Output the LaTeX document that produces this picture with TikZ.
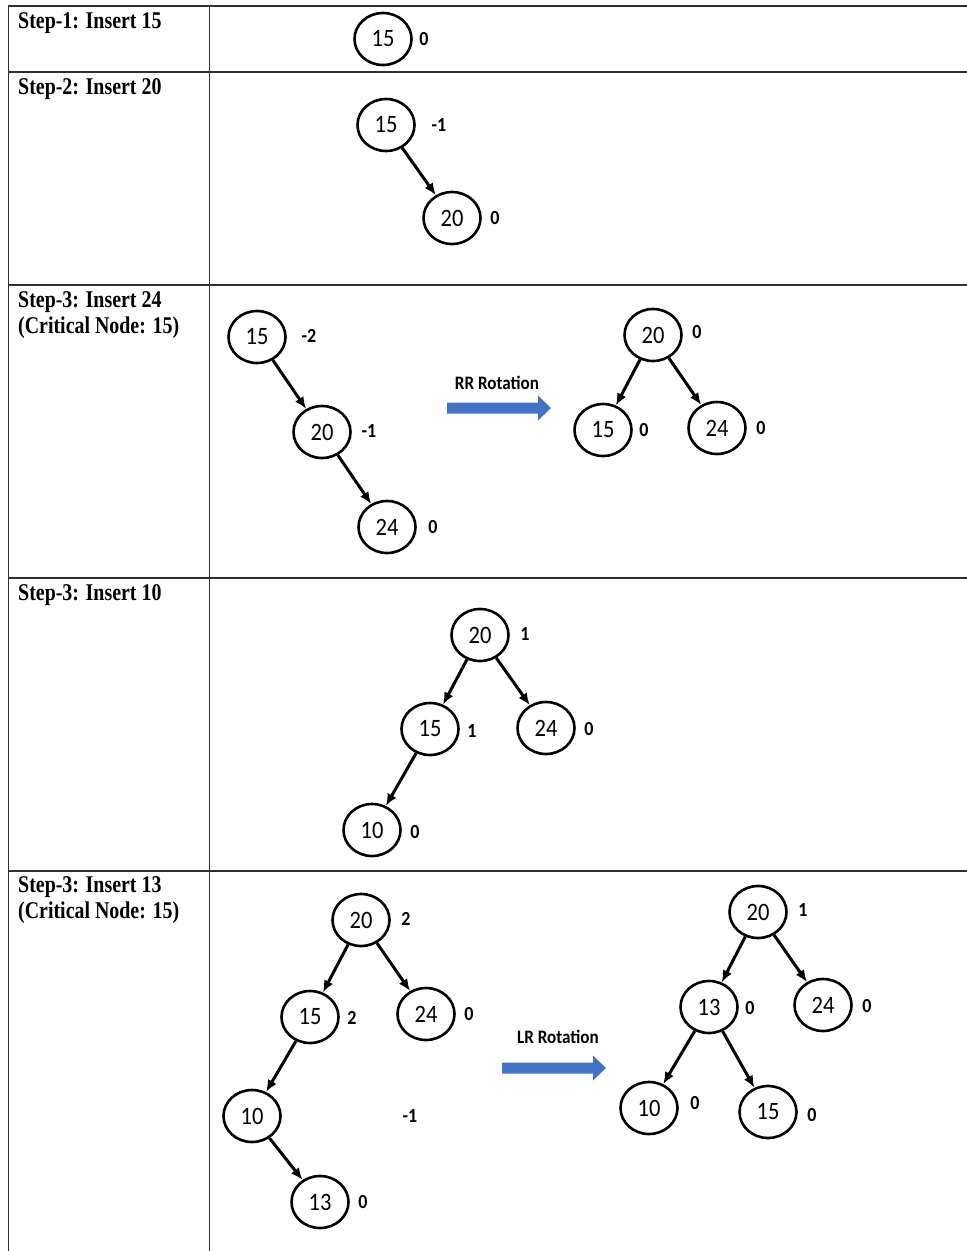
\documentclass[tikz,border=0pt]{standalone}
\usepackage{fontspec}
\setmainfont{Liberation Serif}
\newfontfamily\headfont[FakeStretch=0.83]{Liberation Serif}
\newfontfamily\keyfont[FakeStretch=0.9]{Carlito}
\usetikzlibrary{arrows.meta,shapes.geometric}
\definecolor{arrowblue}{HTML}{4472C4}
\definecolor{rulegray}{HTML}{303030}

\tikzset{
  key/.style={ellipse, draw, line width=2.6pt, minimum width=57pt, minimum height=52pt,
    inner sep=0pt, font=\keyfont\fontsize{25}{25}\selectfont},
  bal/.style={inner sep=0pt, font=\keyfont\bfseries\fontsize{20}{20}\selectfont},
  link/.style={line width=3pt, -{Latex[length=12pt,width=10pt]}},
  rowrule/.style={line width=1.8pt, draw=rulegray},
  head/.style={anchor=base west, inner sep=0pt, font=\headfont\bfseries\fontsize{24}{26}\selectfont},
  rotlabel/.style={inner sep=0pt, font=\keyfont\bfseries\fontsize{19}{19}\selectfont},
  bigarrow/.style={fill=arrowblue}
}
% block arrow: 104pt long, 11pt shaft, 25pt head, 13pt head length
\newcommand\blockarrow[1]{%
  \fill[bigarrow] (#1) ++(0,-5.5) -- ++(91,0) -- ++(0,-7) -- ++(13,12.5)
    -- ++(-13,12.5) -- ++(0,-7) -- ++(-91,0) -- cycle;}

\begin{document}
\begin{tikzpicture}[x=1pt,y=-1pt]
\useasboundingbox (0,0) rectangle (967,1251);

% table frame
\draw[rowrule] (967,6) -- (8.5,6) -- (8.5,1251);
\draw[rowrule] (209.5,6) -- (209.5,1251);
\foreach \yy in {72,285,578,871}
  \draw[rowrule] (8.5,\yy) -- (967,\yy);

% row captions
\node[head] (h1)  at (18,28)  {Step-1: Insert 15};
\node[head] (h2)  at (18,94)  {Step-2: Insert 20};
\node[head] (h3)  at (18,307) {Step-3: Insert 24};
\node[head] (h3b) at (18,333) {(Critical Node: 15)};
\node[head] (h4)  at (18,600) {Step-3: Insert 10};
\node[head] (h5)  at (18,892) {Step-3: Insert 13};
\node[head] (h5b) at (18,918) {(Critical Node: 15)};

% step 1
\node[key] (a15) at (383,39) {15};
\node[bal] (a15b) at (424,39) {0};

% step 2
\node[key] (b15) at (386,125) {15};
\node[bal] (b15b) at (439,125) {-1};
\node[key] (b20) at (452,218) {20};
\node[bal] (b20b) at (495,218) {0};
\draw[link] (b15) -- (b20);

% step 3: insert 24, before rotation
\node[key] (c15) at (257,337) {15};
\node[bal] (c15b) at (309,336) {-2};
\node[key] (c20) at (322,432) {20};
\node[bal] (c20b) at (369,431) {-1};
\node[key] (c24) at (387,527) {24};
\node[bal] (c24b) at (433,527) {0};
\draw[link] (c15) -- (c20);
\draw[link] (c20) -- (c24);

% RR rotation
\node[rotlabel] (rrlab) at (497,383) {RR Rotation};
\coordinate (rr) at (447,408);
\blockarrow{rr}

% step 3: insert 24, after rotation
\node[key] (d20) at (653,335) {20};
\node[bal] (d20b) at (697,332) {0};
\node[key] (d15) at (603,430) {15};
\node[bal] (d15b) at (644,430) {0};
\node[key] (d24) at (717,428) {24};
\node[bal] (d24b) at (761,428) {0};
\draw[link] (d20) -- (d15);
\draw[link] (d20) -- (d24);

% step 4: insert 10
\node[key] (e20) at (480,635) {20};
\node[bal] (e20b) at (525,634) {1};
\node[key] (e15) at (430,729) {15};
\node[bal] (e15b) at (472,731) {1};
\node[key] (e24) at (546,728) {24};
\node[bal] (e24b) at (589,729) {0};
\node[key] (e10) at (372,830) {10};
\node[bal] (e10b) at (415,832) {0};
\draw[link] (e20) -- (e15);
\draw[link] (e20) -- (e24);
\draw[link] (e15) -- (e10);

% step 5: insert 13, before rotation
\node[key] (f20) at (361,920) {20};
\node[bal] (f20b) at (406,919) {2};
\node[key] (f15) at (310,1017) {15};
\node[bal] (f15b) at (352,1018) {2};
\node[key] (f24) at (426,1014) {24};
\node[bal] (f24b) at (469,1014) {0};
\node[key] (f10) at (252,1116) {10};
\node[bal] (f10b) at (410,1116) {-1};
\node[key] (f13) at (320,1202) {13};
\node[bal] (f13b) at (363,1202) {0};
\draw[link] (f20) -- (f15);
\draw[link] (f20) -- (f24);
\draw[link] (f15) -- (f10);
\draw[link] (f10) -- (f13);

% LR rotation
\node[rotlabel] (lrlab) at (558,1037) {LR Rotation};
\coordinate (lr) at (502,1068);
\blockarrow{lr}

% step 5: insert 13, after rotation
\node[key] (g20) at (758,912) {20};
\node[bal] (g20b) at (803,910) {1};
\node[key] (g13) at (709,1007) {13};
\node[bal] (g13b) at (750,1008) {0};
\node[key] (g24) at (823,1005) {24};
\node[bal] (g24b) at (867,1006) {0};
\node[key] (g10) at (649,1108) {10};
\node[bal] (g10b) at (695,1103) {0};
\node[key] (g15) at (768,1112) {15};
\node[bal] (g15b) at (812,1115) {0};
\draw[link] (g20) -- (g13);
\draw[link] (g20) -- (g24);
\draw[link] (g13) -- (g10);
\draw[link] (g13) -- (g15);
\end{tikzpicture}
\end{document}
